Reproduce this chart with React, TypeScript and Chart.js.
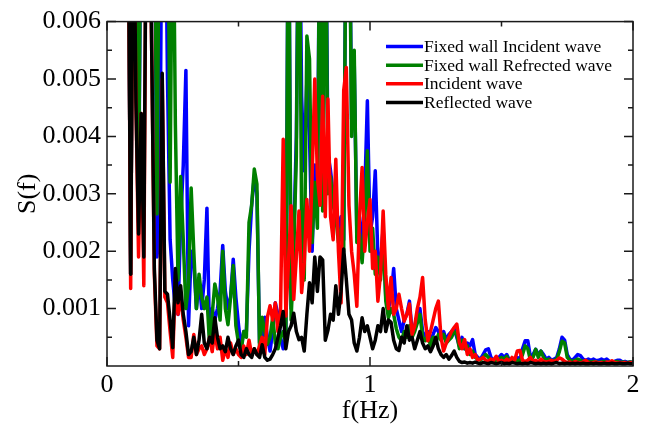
import { useEffect, useRef } from "react";
import { Chart, registerables } from "chart.js";

Chart.register(...registerables);

// Frequency (Hz)
const FREQ = [
  0.08, 0.09,
  0.10, 0.11, 0.12, 0.13, 0.14, 0.15, 0.16, 0.17, 0.18, 0.19,
  0.20, 0.21, 0.22, 0.23, 0.24, 0.25, 0.26, 0.27, 0.28, 0.29,
  0.30, 0.31, 0.32, 0.33, 0.34, 0.35, 0.36, 0.37, 0.38, 0.39,
  0.40, 0.41, 0.42, 0.43, 0.44, 0.45, 0.46, 0.47, 0.48, 0.49,
  0.50, 0.51, 0.52, 0.53, 0.54, 0.55, 0.56, 0.57, 0.58, 0.59,
  0.60, 0.61, 0.62, 0.63, 0.64, 0.65, 0.66, 0.67, 0.68, 0.69,
  0.70, 0.71, 0.72, 0.73, 0.74, 0.75, 0.76, 0.77, 0.78, 0.79,
  0.80, 0.81, 0.82, 0.83, 0.84, 0.85, 0.86, 0.87, 0.88, 0.89,
  0.90, 0.91, 0.92, 0.93, 0.94, 0.95, 0.96, 0.97, 0.98, 0.99,
  1.00, 1.01, 1.02, 1.03, 1.04, 1.05, 1.06, 1.07, 1.08, 1.09,
  1.10, 1.11, 1.12, 1.13, 1.14, 1.15, 1.16, 1.17, 1.18, 1.19,
  1.20, 1.21, 1.22, 1.23, 1.24, 1.25, 1.26, 1.27, 1.28, 1.29,
  1.30, 1.31, 1.32, 1.33, 1.34, 1.35, 1.36, 1.37, 1.38, 1.39,
  1.40, 1.41, 1.42, 1.43, 1.44, 1.45, 1.46, 1.47, 1.48, 1.49,
  1.50, 1.51, 1.52, 1.53, 1.54, 1.55, 1.56, 1.57, 1.58, 1.59,
  1.60, 1.61, 1.62, 1.63, 1.64, 1.65, 1.66, 1.67, 1.68, 1.69,
  1.70, 1.71, 1.72, 1.73, 1.74, 1.75, 1.76, 1.77, 1.78, 1.79,
  1.80, 1.81, 1.82, 1.83, 1.84, 1.85, 1.86, 1.87, 1.88, 1.89,
  1.90, 1.91, 1.92, 1.93, 1.94, 1.95, 1.96, 1.97, 1.98, 1.99,
  2.00,
];

// S(f) — Fixed wall Incident wave (blue)
const FIXED_INCIDENT = [
  9e-3, 1.6e-3, 9e-3, 9e-3, 2.5e-3, 9e-3, 9e-3, 9e-3, 9e-3, 9e-3,
  9e-3, 1.9e-3, 2.5e-3, 9e-3, 9e-3, 5.0e-3, 2.2e-3, 1.5e-3, 1.0e-3, 0.9e-3,
  2.5e-3, 3.5e-3, 5.15e-3, 0.7e-3, 2.0e-3, 1.8e-3, 1.0e-3, 1.5e-3, 1.0e-3, 1.5e-3,
  2.75e-3, 0.5e-3, 1.0e-3, 0.8e-3, 1.0e-3, 1.3e-3, 2.1e-3, 1.3e-3, 1.0e-3, 1.2e-3,
  1.86e-3, 1.2e-3, 0.72e-3, 0.32e-3, 0.6e-3, 0.6e-3, 2.0e-3, 2.8e-3, 3.3e-3, 3.0e-3,
  0.4e-3, 0.5e-3, 0.85e-3, 0.5e-3, 0.26e-3, 0.6e-3, 1.1e-3, 0.9e-3, 0.5e-3, 0.3e-3,
  0.5e-3, 9e-3, 1.0e-3, 2.2e-3, 4.0e-3, 9e-3, 4.7e-3, 3.4e-3, 5.0e-3, 4.0e-3,
  2.0e-3, 3.5e-3, 2.8e-3, 9e-3, 3.0e-3, 9e-3, 3.7e-3, 3.4e-3, 3.0e-3, 2.5e-3,
  2.4e-3, 2.6e-3, 2.2e-3, 9e-3, 9e-3, 4.3e-3, 5.3e-3, 2.3e-3, 2.6e-3, 2.0e-3,
  3.0e-3, 4.62e-3, 2.3e-3, 2.6e-3, 3.4e-3, 1.9e-3, 1.8e-3, 2.4e-3, 1.2e-3, 1.0e-3,
  1.2e-3, 1.7e-3, 1.0e-3, 0.8e-3, 0.6e-3, 0.8e-3, 0.9e-3, 1.13e-3, 0.6e-3, 0.7e-3,
  0.9e-3, 1.0e-3, 0.6e-3, 0.5e-3, 0.6e-3, 0.45e-3, 0.55e-3, 0.67e-3, 0.6e-3, 0.5e-3,
  0.6e-3, 0.45e-3, 0.55e-3, 0.6e-3, 0.65e-3, 0.5e-3, 0.35e-3, 0.5e-3, 0.3e-3, 0.4e-3,
  0.35e-3, 0.46e-3, 0.2e-3, 0.15e-3, 0.12e-3, 0.2e-3, 0.28e-3, 0.3e-3, 0.15e-3, 0.1e-3,
  0.12e-3, 0.15e-3, 0.2e-3, 0.15e-3, 0.2e-3, 0.1e-3, 0.12e-3, 0.1e-3, 0.15e-3, 0.12e-3,
  0.3e-3, 0.44e-3, 0.44e-3, 0.15e-3, 0.2e-3, 0.29e-3, 0.2e-3, 0.26e-3, 0.2e-3, 0.12e-3,
  0.15e-3, 0.1e-3, 0.12e-3, 0.15e-3, 0.3e-3, 0.5e-3, 0.45e-3, 0.2e-3, 0.12e-3, 0.1e-3,
  0.15e-3, 0.2e-3, 0.18e-3, 0.12e-3, 0.1e-3, 0.12e-3, 0.1e-3, 0.12e-3, 0.09e-3, 0.1e-3,
  0.12e-3, 0.1e-3, 0.12e-3, 0.08e-3, 0.07e-3, 0.08e-3, 0.1e-3, 0.1e-3, 0.07e-3, 0.08e-3,
  0.06e-3, 0.07e-3, 0.06e-3,
];

// S(f) — Fixed wall Refrected wave (green)
const FIXED_REFLECTED = [
  9e-3, 1.6e-3, 9e-3, 9e-3, 3.0e-3, 9e-3, 9e-3, 9e-3, 9e-3, 9e-3,
  9e-3, 2.65e-3, 9e-3, 9e-3, 9e-3, 9e-3, 3.2e-3, 9e-3, 4.2e-3, 1.5e-3,
  3.3e-3, 2.2e-3, 1.0e-3, 1.4e-3, 3.1e-3, 2.0e-3, 1.0e-3, 1.6e-3, 1.2e-3, 1.0e-3,
  1.2e-3, 0.38e-3, 0.9e-3, 1.43e-3, 1.2e-3, 0.8e-3, 2.0e-3, 1.0e-3, 0.72e-3, 1.2e-3,
  1.75e-3, 0.7e-3, 0.4e-3, 0.26e-3, 0.6e-3, 0.5e-3, 2.5e-3, 2.8e-3, 3.43e-3, 3.17e-3,
  0.32e-3, 0.85e-3, 0.6e-3, 0.38e-3, 0.5e-3, 0.85e-3, 0.4e-3, 0.3e-3, 0.5e-3, 0.6e-3,
  0.4e-3, 9e-3, 0.8e-3, 2.0e-3, 3.66e-3, 9e-3, 2.5e-3, 1.5e-3, 5.75e-3, 5.35e-3,
  2.15e-3, 3.2e-3, 2.4e-3, 9e-3, 2.7e-3, 9e-3, 3.0e-3, 3.3e-3, 2.8e-3, 2.6e-3,
  2.15e-3, 2.4e-3, 2.0e-3, 9e-3, 9e-3, 4.0e-3, 5.5e-3, 2.15e-3, 2.3e-3, 1.8e-3,
  2.5e-3, 3.75e-3, 2.0e-3, 2.4e-3, 1.6e-3, 1.9e-3, 1.5e-3, 2.3e-3, 1.13e-3, 0.84e-3,
  1.0e-3, 0.9e-3, 0.65e-3, 0.5e-3, 0.44e-3, 0.6e-3, 0.5e-3, 0.7e-3, 0.5e-3, 0.6e-3,
  0.75e-3, 0.9e-3, 0.5e-3, 0.44e-3, 0.55e-3, 0.35e-3, 0.5e-3, 0.4e-3, 0.55e-3, 0.45e-3,
  0.55e-3, 0.4e-3, 0.45e-3, 0.5e-3, 0.6e-3, 0.55e-3, 0.3e-3, 0.45e-3, 0.3e-3, 0.35e-3,
  0.2e-3, 0.26e-3, 0.15e-3, 0.12e-3, 0.1e-3, 0.15e-3, 0.2e-3, 0.15e-3, 0.1e-3, 0.08e-3,
  0.1e-3, 0.12e-3, 0.15e-3, 0.12e-3, 0.17e-3, 0.08e-3, 0.1e-3, 0.08e-3, 0.1e-3, 0.09e-3,
  0.2e-3, 0.35e-3, 0.3e-3, 0.1e-3, 0.15e-3, 0.29e-3, 0.15e-3, 0.26e-3, 0.15e-3, 0.1e-3,
  0.12e-3, 0.08e-3, 0.1e-3, 0.12e-3, 0.25e-3, 0.43e-3, 0.4e-3, 0.15e-3, 0.1e-3, 0.08e-3,
  0.1e-3, 0.12e-3, 0.1e-3, 0.08e-3, 0.07e-3, 0.08e-3, 0.07e-3, 0.08e-3, 0.07e-3, 0.06e-3,
  0.07e-3, 0.08e-3, 0.06e-3, 0.07e-3, 0.06e-3, 0.07e-3, 0.08e-3, 0.06e-3, 0.07e-3, 0.06e-3,
  0.06e-3, 0.07e-3, 0.06e-3,
];

// S(f) — Incident wave (red)
const INCIDENT = [
  9e-3, 1.35e-3, 9e-3, 4.6e-3, 1.9e-3, 4.4e-3, 1.4e-3, 9e-3, 9e-3, 5.5e-3,
  1.6e-3, 0.35e-3, 0.3e-3, 5.0e-3, 1.2e-3, 1.1e-3, 0.6e-3, 0.15e-3, 1.5e-3, 0.9e-3,
  1.2e-3, 0.8e-3, 0.5e-3, 0.15e-3, 0.15e-3, 0.55e-3, 0.2e-3, 0.3e-3, 0.35e-3, 0.2e-3,
  0.3e-3, 0.5e-3, 0.25e-3, 0.6e-3, 0.3e-3, 0.5e-3, 0.1e-3, 0.3e-3, 0.15e-3, 0.4e-3,
  0.2e-3, 0.3e-3, 0.2e-3, 0.15e-3, 0.35e-3, 0.2e-3, 0.45e-3, 0.2e-3, 0.3e-3, 0.2e-3,
  0.35e-3, 0.5e-3, 0.2e-3, 0.85e-3, 1.05e-3, 0.8e-3, 1.1e-3, 0.6e-3, 1.0e-3, 3.95e-3,
  0.87e-3, 1.8e-3, 2.79e-3, 1.16e-3, 1.9e-3, 2.7e-3, 1.28e-3, 1.8e-3, 2.9e-3, 2.0e-3,
  3.3e-3, 5.0e-3, 3.3e-3, 2.8e-3, 4.7e-3, 2.6e-3, 4.65e-3, 2.6e-3, 2.2e-3, 3.6e-3,
  2.0e-3, 1.1e-3, 4.8e-3, 5.2e-3, 2.8e-3, 2.0e-3, 1.6e-3, 1.04e-3, 2.6e-3, 3.46e-3,
  2.0e-3, 2.5e-3, 2.9e-3, 1.7e-3, 2.0e-3, 1.13e-3, 1.6e-3, 2.7e-3, 1.6e-3, 1.0e-3,
  1.54e-3, 0.9e-3, 1.0e-3, 1.25e-3, 1.0e-3, 0.78e-3, 0.9e-3, 1.08e-3, 0.55e-3, 0.7e-3,
  1.0e-3, 1.2e-3, 1.54e-3, 0.8e-3, 0.44e-3, 0.6e-3, 0.8e-3, 1.0e-3, 1.13e-3, 0.5e-3,
  0.26e-3, 0.4e-3, 0.5e-3, 0.6e-3, 0.67e-3, 0.73e-3, 0.4e-3, 0.3e-3, 0.46e-3, 0.2e-3,
  0.3e-3, 0.15e-3, 0.2e-3, 0.1e-3, 0.12e-3, 0.15e-3, 0.1e-3, 0.08e-3, 0.12e-3, 0.1e-3,
  0.17e-3, 0.08e-3, 0.1e-3, 0.07e-3, 0.12e-3, 0.08e-3, 0.15e-3, 0.1e-3, 0.26e-3, 0.27e-3,
  0.1e-3, 0.08e-3, 0.1e-3, 0.15e-3, 0.08e-3, 0.1e-3, 0.07e-3, 0.12e-3, 0.08e-3, 0.07e-3,
  0.08e-3, 0.1e-3, 0.08e-3, 0.1e-3, 0.14e-3, 0.12e-3, 0.08e-3, 0.06e-3, 0.07e-3, 0.05e-3,
  0.08e-3, 0.06e-3, 0.05e-3, 0.07e-3, 0.1e-3, 0.06e-3, 0.05e-3, 0.06e-3, 0.07e-3, 0.05e-3,
  0.06e-3, 0.05e-3, 0.07e-3, 0.06e-3, 0.09e-3, 0.06e-3, 0.05e-3, 0.06e-3, 0.05e-3, 0.06e-3,
  0.05e-3, 0.06e-3, 0.05e-3,
];

// S(f) — Reflected wave (black)
const REFLECTED = [
  9e-3, 1.6e-3, 9e-3, 4.6e-3, 2.3e-3, 4.4e-3, 1.9e-3, 9e-3, 9e-3, 5.5e-3,
  1.7e-3, 0.45e-3, 0.3e-3, 5.1e-3, 1.3e-3, 1.25e-3, 0.8e-3, 0.32e-3, 1.7e-3, 1.1e-3,
  1.4e-3, 0.9e-3, 0.6e-3, 0.2e-3, 0.25e-3, 0.5e-3, 0.2e-3, 0.45e-3, 0.9e-3, 0.4e-3,
  0.3e-3, 0.5e-3, 0.4e-3, 0.84e-3, 0.5e-3, 0.3e-3, 0.35e-3, 0.25e-3, 0.5e-3, 0.3e-3,
  0.2e-3, 0.35e-3, 0.45e-3, 0.2e-3, 0.15e-3, 0.3e-3, 0.2e-3, 0.15e-3, 0.3e-3, 0.2e-3,
  0.15e-3, 0.37e-3, 0.15e-3, 0.1e-3, 0.12e-3, 0.2e-3, 0.3e-3, 0.5e-3, 0.7e-3, 0.95e-3,
  0.3e-3, 0.6e-3, 0.7e-3, 0.92e-3, 0.6e-3, 0.46e-3, 0.5e-3, 0.26e-3, 0.9e-3, 1.45e-3,
  1.1e-3, 1.9e-3, 1.3e-3, 1.9e-3, 1.85e-3, 0.45e-3, 0.62e-3, 0.9e-3, 0.8e-3, 1.4e-3,
  0.9e-3, 1.3e-3, 2.04e-3, 1.5e-3, 0.9e-3, 0.8e-3, 0.4e-3, 0.26e-3, 0.5e-3, 0.84e-3,
  0.6e-3, 0.7e-3, 0.5e-3, 0.3e-3, 0.45e-3, 0.7e-3, 0.6e-3, 1.0e-3, 0.6e-3, 0.8e-3,
  0.76e-3, 0.45e-3, 0.3e-3, 0.27e-3, 0.5e-3, 0.4e-3, 0.7e-3, 0.45e-3, 0.5e-3, 0.3e-3,
  0.45e-3, 0.6e-3, 0.4e-3, 0.3e-3, 0.35e-3, 0.25e-3, 0.35e-3, 0.5e-3, 0.3e-3, 0.2e-3,
  0.15e-3, 0.2e-3, 0.12e-3, 0.18e-3, 0.26e-3, 0.15e-3, 0.08e-3, 0.06e-3, 0.07e-3, 0.05e-3,
  0.06e-3, 0.05e-3, 0.07e-3, 0.05e-3, 0.04e-3, 0.06e-3, 0.05e-3, 0.04e-3, 0.06e-3, 0.05e-3,
  0.04e-3, 0.05e-3, 0.06e-3, 0.04e-3, 0.05e-3, 0.04e-3, 0.06e-3, 0.05e-3, 0.04e-3, 0.05e-3,
  0.04e-3, 0.05e-3, 0.04e-3, 0.06e-3, 0.05e-3, 0.04e-3, 0.05e-3, 0.04e-3, 0.05e-3, 0.04e-3,
  0.05e-3, 0.04e-3, 0.05e-3, 0.06e-3, 0.04e-3, 0.05e-3, 0.04e-3, 0.05e-3, 0.04e-3, 0.05e-3,
  0.04e-3, 0.05e-3, 0.04e-3, 0.05e-3, 0.04e-3, 0.04e-3, 0.05e-3, 0.04e-3, 0.05e-3, 0.04e-3,
  0.04e-3, 0.05e-3, 0.04e-3, 0.04e-3, 0.05e-3, 0.04e-3, 0.04e-3, 0.05e-3, 0.04e-3, 0.04e-3,
  0.05e-3, 0.04e-3, 0.04e-3,
];

const SERIES_NAMES = [
  "Fixed wall Incident wave",
  "Fixed wall Refrected wave",
  "Incident wave",
  "Reflected wave",
];
const SERIES_VALUES = [FIXED_INCIDENT, FIXED_REFLECTED, INCIDENT, REFLECTED];
const SERIES_COLORS = ["#0000ff", "#008000", "#ff0000", "#000000"];

const X_MIN = 0;
const X_MAX = 2;
const X_MAJOR = [0, 1, 2];
const X_MINOR = [0.5, 1.5];
const Y_MIN = 0;
const Y_MAX = 0.006;
const Y_MAJOR = [0.001, 0.002, 0.003, 0.004, 0.005, 0.006];
const Y_MINOR = [0.0005, 0.0015, 0.0025, 0.0035, 0.0045, 0.0055];
const Y_LABELS = ["0.001", "0.002", "0.003", "0.004", "0.005", "0.006"];

const SERIF = "'Liberation Serif', 'Times New Roman', serif";

const framePlugin = {
  id: "frameAndTicks",
  afterDraw(chart: any) {
    const { ctx, chartArea } = chart;
    const xs = chart.scales.x;
    const ys = chart.scales.y;
    const { left, right, top, bottom } = chartArea;
    ctx.save();
    ctx.strokeStyle = "#1a1a1a";
    ctx.lineWidth = 1.5;
    ctx.strokeRect(left, top, right - left, bottom - top);
    ctx.beginPath();
    const major = 9;
    const minor = 5;
    for (const v of Y_MAJOR) {
      const p = ys.getPixelForValue(v);
      ctx.moveTo(left, p); ctx.lineTo(left + major, p);
      ctx.moveTo(right, p); ctx.lineTo(right - major, p);
    }
    for (const v of Y_MINOR) {
      const p = ys.getPixelForValue(v);
      ctx.moveTo(left, p); ctx.lineTo(left + minor, p);
      ctx.moveTo(right, p); ctx.lineTo(right - minor, p);
    }
    for (const v of X_MAJOR) {
      const p = xs.getPixelForValue(v);
      ctx.moveTo(p, bottom); ctx.lineTo(p, bottom - major);
      ctx.moveTo(p, top); ctx.lineTo(p, top + major);
    }
    for (const v of X_MINOR) {
      const p = xs.getPixelForValue(v);
      ctx.moveTo(p, bottom); ctx.lineTo(p, bottom - minor);
      ctx.moveTo(p, top); ctx.lineTo(p, top + minor);
    }
    ctx.stroke();

    // legend inside plot area
    ctx.font = `17.5px ${SERIF}`;
    ctx.textBaseline = "middle";
    ctx.textAlign = "left";
    SERIES_NAMES.forEach((name, i) => {
      const y = top + 25 + i * 18.6;
      ctx.beginPath();
      ctx.strokeStyle = SERIES_COLORS[i];
      ctx.lineWidth = 3.5;
      ctx.moveTo(right - 247, y);
      ctx.lineTo(right - 210, y);
      ctx.stroke();
      ctx.fillStyle = "#000";
      ctx.fillText(name, right - 209, y + 1);
    });
    ctx.restore();
  },
};

export default function App() {
  const canvasRef = useRef<HTMLCanvasElement | null>(null);

  useEffect(() => {
    document.body.style.margin = "0";
    const canvas = canvasRef.current;
    if (!canvas) return;
    const datasets = SERIES_VALUES.map((vals, i) => ({
      label: SERIES_NAMES[i],
      data: FREQ.map((f, j) => ({ x: f, y: vals[j] })),
      borderColor: SERIES_COLORS[i],
      backgroundColor: SERIES_COLORS[i],
      borderWidth: 3.5,
      pointRadius: 0,
      tension: 0,
      fill: false,
      order: SERIES_VALUES.length - i,
    }));

    const chart = new Chart(canvas, {
      type: "line",
      data: { datasets },
      options: {
        responsive: false,
        animation: false,
        devicePixelRatio: 1,
        layout: { padding: { top: 21, right: 21, left: 0, bottom: 0 } },
        plugins: { legend: { display: false }, tooltip: { enabled: false } },
        elements: {
          line: { borderJoinStyle: "round", borderCapStyle: "round" },
        },
        scales: {
          x: {
            type: "linear",
            min: X_MIN,
            max: X_MAX,
            grid: { display: false, drawTicks: false },
            border: { display: false },
            afterBuildTicks: (scale: any) => {
              scale.ticks = X_MAJOR.map((v) => ({ value: v }));
            },
            ticks: {
              color: "#000",
              font: { family: SERIF, size: 26 },
              padding: 4,
              maxRotation: 0,
              autoSkip: false,
              callback: (v: any) => String(v),
            },
            title: {
              display: true,
              text: "f(Hz)",
              color: "#000",
              font: { family: SERIF, size: 26 },
              padding: { top: 0, bottom: 0 },
            },
            afterFit: (scale: any) => {
              scale.height = 61;
            },
          },
          y: {
            type: "linear",
            min: Y_MIN,
            max: Y_MAX,
            grid: { display: false, drawTicks: false },
            border: { display: false },
            afterBuildTicks: (scale: any) => {
              scale.ticks = Y_MAJOR.map((v) => ({ value: v }));
            },
            ticks: {
              color: "#000",
              font: { family: SERIF, size: 26 },
              padding: 6,
              autoSkip: false,
              callback: (_v: any, idx: number) => Y_LABELS[idx],
            },
            title: {
              display: true,
              text: "S(f)",
              color: "#000",
              font: { family: SERIF, size: 26 },
              padding: { top: 13, bottom: 0 },
            },
            afterFit: (scale: any) => {
              scale.width = 107;
            },
          },
        },
      },
      plugins: [framePlugin],
    });
    return () => chart.destroy();
  }, []);

  return (
    <div style={{ width: 654, height: 427, background: "#fff" }}>
      <canvas ref={canvasRef} width={654} height={427} style={{ display: "block" }} />
    </div>
  );
}
